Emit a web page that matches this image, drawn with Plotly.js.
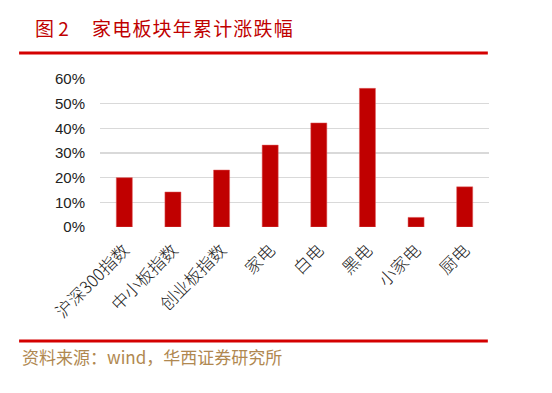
<!DOCTYPE html>
<html><head><meta charset="utf-8">
<script src="https://cdn.plot.ly/plotly-3.0.1.min.js"></script>
<style>html,body{margin:0;padding:0;background:#fff;}#chart{width:552px;height:393px;}</style>
</head><body><div id="chart"></div>
<script>
const categories = ["沪深300指数","中小板指数","创业板指数","家电","白电","黑电","小家电","厨电"];
const values = [0.200, 0.142, 0.231, 0.332, 0.422, 0.562, 0.039, 0.163];
const tickVals = [0, 0.1, 0.2, 0.3, 0.4, 0.5, 0.6];
const tickText = ["0%","10%","20%","30%","40%","50%","60%"];
const figLabel = "图 2";
const titleText = "家电板块年累计涨跌幅";
const sourceText = "资料来源：wind，华西证券研究所";

const trace = {
  type: "bar", x: categories, y: values,
  marker: {color: "#c00000", line: {color: "#e06060", width: 0.5}},
  width: 0.33, hoverinfo: "skip"
};
const spaced = s => s.split("").join("\u200A");
const layout = {
  width: 552, height: 393,
  margin: {l: 100, r: 63, t: 79, b: 166},
  paper_bgcolor: "#fff", plot_bgcolor: "#fff",
  showlegend: false,
  xaxis: {
    type: "category", tickangle: -45, showgrid: false, zeroline: false, showline: false,
    ticks: "", ticklabelstandoff: 9,
    tickfont: {family: "Noto Sans CJK SC", size: 17, color: "#222", weight: 300}
  },
  yaxis: {
    range: [0, 0.6], tickvals: tickVals, ticktext: tickText, showgrid: true,
    gridcolor: "#d9d9d9", gridwidth: 1.5, zeroline: false, showline: false, ticks: "",
    tickfont: {family: "Liberation Sans, Arial", size: 15, color: "#222"}, ticklabelstandoff: 14
  },
  shapes: [
    {type: "line", xref: "paper", yref: "paper", x0: -0.208, x1: 0.997, y0: 1.176, y1: 1.176, line: {color: "#d40000", width: 3}},
    {type: "line", xref: "paper", yref: "paper", x0: -0.208, x1: 0.997, y0: -0.770, y1: -0.770, line: {color: "#d40000", width: 3}}
  ],
  annotations: [
    {xref: "paper", yref: "paper", x: -0.172, y: 1.351, xanchor: "left", yanchor: "middle", showarrow: false,
     text: figLabel, font: {family: "Noto Sans CJK SC", size: 19, color: "#c00000"}},
    {xref: "paper", yref: "paper", x: -0.026, y: 1.351, xanchor: "left", yanchor: "middle", showarrow: false,
     text: spaced(titleText), font: {family: "Noto Sans CJK SC", size: 19, color: "#c00000"}},
    {xref: "paper", yref: "paper", x: -0.206, y: -0.872, xanchor: "left", yanchor: "middle", showarrow: false,
     text: sourceText, font: {family: "Noto Sans CJK SC", size: 17, color: "#b08850"}}
  ]
};
Plotly.newPlot("chart", [trace], layout, {staticPlot: true, displayModeBar: false});
</script></body></html>
